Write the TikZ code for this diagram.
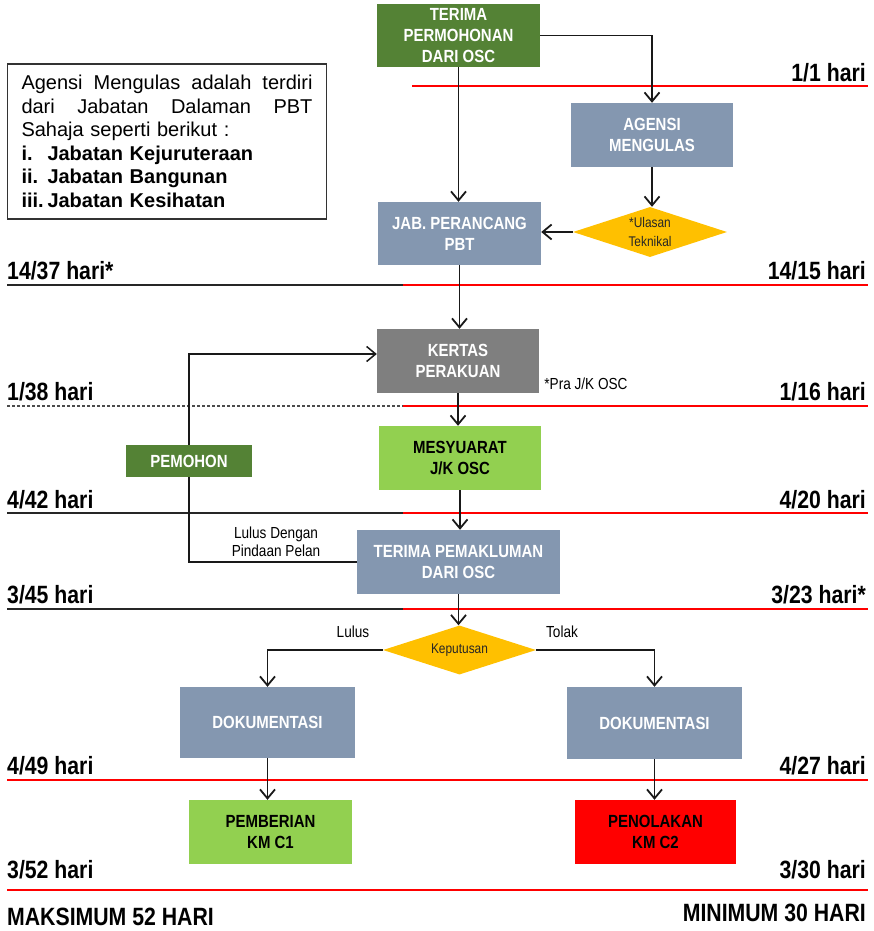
\documentclass[tikz,border=0pt]{standalone}
\usepackage{fontspec}
\setmainfont{Liberation Sans}
\newfontfamily\narrowsans[FakeStretch=0.85]{Liberation Sans}
\usetikzlibrary{shapes.geometric,arrows.meta}
\definecolor{oscGreen}{HTML}{548235}
\definecolor{reviewBlue}{HTML}{8497B0}
\definecolor{paperGray}{HTML}{7F7F7F}
\definecolor{meetGreen}{HTML}{92D050}
\definecolor{decisionGold}{HTML}{FFC000}
\definecolor{rejectRed}{HTML}{FF0000}
\definecolor{ruleRed}{HTML}{FF0000}
\newcommand{\boxfont}{\narrowsans\bfseries\fontsize{17.6}{21}\selectfont}
\newcommand{\dayfont}{\narrowsans\bfseries\fontsize{25}{28}\selectfont}
\newcommand{\notefont}{\narrowsans\fontsize{16}{18}\selectfont}
\newcommand{\fullline}[1]{\leavevmode\hbox to 291pt{#1}}

\begin{document}
\begin{tikzpicture}[x=1pt,y=-1pt,
  stage/.style={rectangle,inner sep=0pt,align=center,font=\boxfont,text=white},
  decision/.style={diamond,shape aspect=3,inner sep=0pt,fill=decisionGold,
    align=center,text=black!85},
  flow/.style={black!90,line width=1.8pt,-{Straight Barb[length=9pt,width=15pt]}},
  daylabel/.style={font=\dayfont,inner sep=0pt},
  note/.style={font=\notefont,inner sep=0pt,align=center},
  blackrule/.style={black!85,line width=1.2pt},
  redrule/.style={draw=ruleRed,line width=1.2pt}]
\useasboundingbox (0,0) rectangle (874,931);

% Day rules: maximum path on the left, minimum path on the right.
\draw[redrule] (412,86) -- (868,86);
\foreach \ry in {285,513,609} {
  \draw[blackrule] (7,\ry) -- (405,\ry);
  \draw[redrule] (403,\ry) -- (868,\ry);
}
\draw[blackrule,black!70,densely dashed] (7,406) -- (405,406);
\draw[redrule] (403,406) -- (868,406);
\foreach \ry in {780,890} {
  \draw[redrule] (7,\ry) -- (868,\ry);
}

% Day counts.
\node[daylabel,anchor=base east] (minDay0) at (866,82) {1/1 hari};
\foreach \ry/\maxlbl/\minlbl [count=\k] in {279/{14/37 hari*}/{14/15 hari},
    400/{1/38 hari}/{1/16 hari},508/{4/42 hari}/{4/20 hari},
    603/{3/45 hari}/{3/23 hari*},774/{4/49 hari}/{4/27 hari},
    878/{3/52 hari}/{3/30 hari}} {
  \node[daylabel,anchor=base west] (maxDay\k) at (7,\ry) {\maxlbl};
  \node[daylabel,anchor=base east] (minDay\k) at (866,\ry) {\minlbl};
}
\node[daylabel,anchor=base west,text depth=0pt] (maxTotal) at (7,925) {MAKSIMUM 52 HARI};
\node[daylabel,anchor=base east,text depth=0pt] (minTotal) at (866,921) {MINIMUM 30 HARI};

% Note on the reviewing agencies.
\node[draw=black!80,line width=1.2pt,inner xsep=14pt,inner ysep=0pt,
  minimum height=155pt,text width=291pt,align=left,
  font=\fontsize{20}{23.5}\selectfont] (agencyNote) at (167,141.5)
  {\fullline{Agensi\hfill Mengulas\hfill adalah\hfill terdiri}\\
   \fullline{dari\hfill Jabatan\hfill Dalaman\hfill PBT}\\
   Sahaja seperti berikut :\\
   \textbf{\makebox[26pt][l]{i.}Jabatan Kejuruteraan}\\
   \textbf{\makebox[26pt][l]{ii.}Jabatan Bangunan}\\
   \textbf{\makebox[26pt][l]{iii.}Jabatan Kesihatan}};

% Main stages.
\node[stage,fill=oscGreen,minimum width=163pt,minimum height=63pt]
  (terima) at (458.5,35.5) {TERIMA\\PERMOHONAN\\DARI OSC};
\node[stage,fill=reviewBlue,minimum width=162pt,minimum height=64pt]
  (agensi) at (652,135) {AGENSI\\MENGULAS};
\node[decision,minimum width=154pt,minimum height=50pt,
  font=\narrowsans\fontsize{14}{19}\selectfont]
  (ulasan) at (650,232) {*Ulasan\\Teknikal};
\node[stage,fill=reviewBlue,minimum width=163pt,minimum height=63pt]
  (jab) at (459.5,233.5) {JAB. PERANCANG\\PBT};
\node[stage,fill=paperGray,minimum width=162pt,minimum height=64pt]
  (kertas) at (458,361) {KERTAS\\PERAKUAN};
\node[stage,fill=meetGreen,text=black,minimum width=162pt,minimum height=64pt]
  (mesyuarat) at (460,458) {MESYUARAT\\J/K OSC};
\node[stage,fill=oscGreen,minimum width=126pt,minimum height=32pt]
  (pemohon) at (189,461) {PEMOHON};
\node[stage,fill=reviewBlue,minimum width=203pt,minimum height=64pt]
  (pemakluman) at (458.5,562) {TERIMA PEMAKLUMAN\\DARI OSC};
\node[decision,minimum width=153pt,minimum height=49pt,
  font=\narrowsans\fontsize{14}{16}\selectfont]
  (keputusan) at (459.5,650) {Keputusan};
\node[stage,fill=reviewBlue,minimum width=175pt,minimum height=71pt]
  (dokLulus) at (267.5,722.5) {DOKUMENTASI};
\node[stage,fill=reviewBlue,minimum width=175pt,minimum height=72pt]
  (dokTolak) at (654.5,723) {DOKUMENTASI};
\node[stage,fill=meetGreen,text=black,minimum width=163pt,minimum height=64pt]
  (pemberian) at (270.5,832) {PEMBERIAN\\KM C1};
\node[stage,fill=rejectRed,text=black,minimum width=161pt,minimum height=64pt]
  (penolakan) at (655.5,832) {PENOLAKAN\\KM C2};

% Small notes.
\node[note] (praOsc) at (586,384) {*Pra J/K OSC};
\node[note] (pindaan) at (276,542) {Lulus Dengan\\Pindaan Pelan};
\node[note] (lulus) at (353,632) {Lulus};
\node[note] (tolak) at (562,632) {Tolak};

% Flow.
\draw[flow] (terima.south) -- (terima.south |- jab.north);
\draw[flow] (terima.east) -| (agensi.north);
\draw[flow] (agensi.south) -- (agensi.south |- ulasan.north);
\draw[flow] (ulasan.west) -- (ulasan.west -| jab.east);
\draw[flow] (jab.south) -- (jab.south |- kertas.north);
\draw[flow] (kertas.south) -- (kertas.south |- mesyuarat.north);
\draw[flow] (mesyuarat.south) -- (mesyuarat.south |- pemakluman.north);
\draw[flow] (pemakluman.south) -- (pemakluman.south |- keputusan.north);
\draw[flow] (keputusan.west) -| (dokLulus.north);
\draw[flow] (keputusan.east) -| (dokTolak.north);
\draw[flow] (dokLulus.south) -- (dokLulus.south |- pemberian.north);
\draw[flow] (dokTolak.south) -- (dokTolak.south |- penolakan.north);

% Amended plans go back through the applicant.
\draw[black!90,line width=1.5pt] (pemakluman.west) -| (pemohon.south);
\draw[flow,line width=1.5pt] (pemohon.north) |- ([yshift=7pt]kertas.west);

\end{tikzpicture}
\end{document}
